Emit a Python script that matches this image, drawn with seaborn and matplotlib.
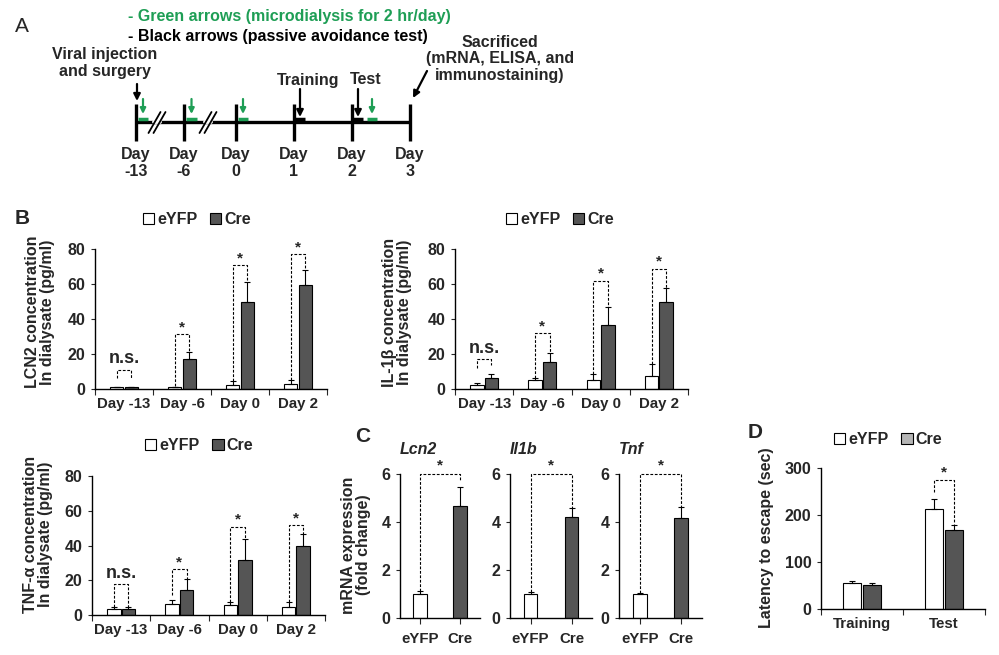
import matplotlib
matplotlib.use('Agg')
import matplotlib.pyplot as plt
from matplotlib.patches import Patch
import numpy as np
import pandas as pd
import seaborn as sns

# ---- data ----
days = ['Day -13', 'Day -6', 'Day 0', 'Day 2']
groups = ['eYFP', 'Cre']

lcn2_eyfp = [1.0, 1.0, 2.5, 2.9]
lcn2_eyfp_err = [0.4, 0.4, 2.3, 2.2]
lcn2_cre = [1.0, 17.1, 50.0, 59.6]
lcn2_cre_err = [0.4, 4.0, 11.0, 8.4]
lcn2_sig = ['n.s.', '*', '*', '*']
lcn2_br_top = [11.0, 31.4, 70.7, 77.0]
lcn2_br_left = [6.3, 1.5, 4.8, 5.1]
lcn2_br_right = [6.3, 21.1, 61.0, 68.0]

il1b_eyfp = [2.5, 5.3, 5.1, 7.6]
il1b_eyfp_err = [1.1, 1.2, 3.6, 6.8]
il1b_cre = [6.3, 15.4, 36.7, 49.6]
il1b_cre_err = [2.2, 5.1, 10.1, 8.0]
il1b_sig = ['n.s.', '*', '*', '*']
il1b_br_top = [17.0, 32.0, 62.0, 68.6]
il1b_br_left = [12.0, 6.5, 8.7, 14.4]
il1b_br_right = [13.5, 20.5, 46.8, 57.6]

tnf_eyfp = [3.3, 6.3, 5.8, 4.4]
tnf_eyfp_err = [1.1, 2.1, 1.7, 3.1]
tnf_cre = [3.3, 14.4, 31.7, 39.7]
tnf_cre_err = [1.5, 6.1, 12.1, 6.7]
tnf_sig = ['n.s.', '*', '*', '*']
tnf_br_top = [17.7, 26.3, 50.9, 51.8]
tnf_br_left = [4.4, 11.5, 7.7, 7.7]
tnf_br_right = [4.8, 20.5, 43.8, 46.4]

mrna_genes = ['Lcn2', 'Il1b', 'Tnf']
mrna_eyfp = [1.0, 1.0, 1.0]
mrna_eyfp_err = [0.11, 0.1, 0.06]
mrna_cre = [4.68, 4.22, 4.18]
mrna_cre_err = [0.78, 0.36, 0.44]
mrna_br_left = [1.11, 1.1, 1.06]
mrna_br_right = [5.7, 4.58, 4.62]
mrna_br_top = 6.0

pa_phase = ['Training', 'Test']
pa_eyfp = [55, 213]
pa_eyfp_err = [4, 21]
pa_cre = [51, 169]
pa_cre_err = [3.6, 10]

timeline_days = ['-13', '-6', '0', '1', '2', '3']

WHITE = 'white'
DARK = '#555555'
GREEN = '#1e9e55'
palette = {'eYFP': WHITE, 'Cre': DARK}
FS = 11.5

sns.set_theme(style='ticks')
plt.rcParams['font.family'] = ['Liberation Sans', 'DejaVu Sans']
plt.rcParams['font.weight'] = 'bold'
plt.rcParams['axes.labelweight'] = 'bold'
plt.rcParams['axes.linewidth'] = 1.0
plt.rcParams['axes.edgecolor'] = 'black'

W, H = 999, 655
fig = plt.figure(figsize=(9.99, 6.55), dpi=100)


def px_axes(x0, x1, y_top, y_bot):
    return fig.add_axes([x0 / W, 1 - y_bot / H, (x1 - x0) / W, (y_bot - y_top) / H])


def draw_pair(ax, cats, eyfp, eyfp_err, cre, cre_err, width, gap):
    df = pd.DataFrame({'cat': cats * 2,
                       'group': ['eYFP'] * len(cats) + ['Cre'] * len(cats),
                       'value': eyfp + cre})
    sns.barplot(data=df, x='cat', y='value', hue='group', hue_order=groups,
                palette=palette, width=width, gap=gap, edgecolor='black',
                linewidth=0.8, errorbar=None, legend=False, ax=ax)
    centers = []
    for cont, errs in zip(ax.containers, [eyfp_err, cre_err]):
        xs = [b.get_x() + b.get_width() / 2 for b in cont]
        hs = [b.get_height() for b in cont]
        ax.errorbar(xs, hs, yerr=[np.zeros(len(errs)), errs], fmt='none',
                    ecolor='black', elinewidth=0.8, capsize=2.5, capthick=0.8)
        centers.append(xs)
    return centers


def bracket(ax, x1, x2, top, yl, yr, label, off, fs):
    ax.plot([x1, x1, x2, x2], [yl, top, top, yr], color='black', lw=0.8,
            ls=(0, (2.5, 1.5)))
    ax.text((x1 + x2) / 2, top + off, label, ha='center', va='bottom',
            fontsize=fs, fontweight='bold')


def style_axis(ax, ymax, ystep, ncat, boundary_ticks=True):
    sns.despine(ax=ax)
    ax.set_ylim(0, ymax)
    ax.set_yticks(np.arange(0, ymax + 1e-9, ystep))
    ax.set_xlim(-0.5, ncat - 0.5)
    ax.set_xlabel('')
    ax.set_ylabel('')
    ax.tick_params(axis='y', length=3, width=0.8, labelsize=FS, pad=4)
    ax.tick_params(axis='x', labelsize=10.8, pad=6)
    if boundary_ticks:
        ax.tick_params(axis='x', which='major', length=0)
        ax.set_xticks(np.arange(-0.5, ncat), minor=True)
        ax.tick_params(axis='x', which='minor', length=4, width=0.8,
                       direction='out', bottom=True)
    else:
        ax.tick_params(axis='x', which='major', length=4, width=0.8)
    for lab in ax.get_xticklabels() + ax.get_yticklabels():
        lab.set_fontweight('bold')


def legend(ax, bx, by, cre_color=DARK):
    handles = [Patch(facecolor=WHITE, edgecolor='black', lw=0.8),
               Patch(facecolor=cre_color, edgecolor='black', lw=0.8)]
    ax.legend(handles, groups, ncol=2, frameon=False, loc='center',
              bbox_to_anchor=(bx, by), handlelength=0.7, handleheight=0.7,
              handletextpad=0.2, columnspacing=0.8, borderaxespad=0,
              prop={'size': FS, 'weight': 'bold'})


# ---- panel A : timeline ----
ax0 = fig.add_axes([0, 0, 1, 1])
ax0.set_xlim(0, W)
ax0.set_ylim(H, 0)
ax0.axis('off')
ax0.patch.set_alpha(0)

day_x = [136, 184, 236, 294, 352, 410]
line_y = 122
ax0.text(15, 27, 'A', fontsize=15, fontweight='normal', va='center')
ax0.text(128, 16, '- Green arrows (microdialysis for 2 hr/day)', color=GREEN,
         fontsize=FS, va='center')
ax0.text(128, 36, '- Black arrows (passive avoidance test)', color='black',
         fontsize=FS, va='center')
ax0.text(105, 63, 'Viral injection\nand surgery', ha='center', va='center',
         fontsize=FS, linespacing=1.1)
ax0.text(308, 80, 'Training', ha='center', va='center', fontsize=FS)
ax0.text(366, 80, 'Test', ha='center', va='center', fontsize=FS)
ax0.text(500, 59, 'Sacrificed\n(mRNA, ELISA, and\nimmunostaining)', ha='center',
         va='center', fontsize=FS, linespacing=1.1)
ax0.plot([day_x[0], day_x[-1]], [line_y, line_y], color='black', lw=2.4,
         solid_capstyle='butt')
for x, d in zip(day_x, timeline_days):
    ax0.plot([x, x], [104, 141], color='black', lw=2.4, solid_capstyle='butt')
    ax0.text(x, 163, 'Day\n' + d, ha='center', va='center', fontsize=FS,
             linespacing=1.1)
# break marks on the time axis
for xm in [157, 208]:
    ax0.plot([xm - 3, xm + 3], [line_y, line_y], color='white', lw=2.8)
    for dx in [-2.5, 2.5]:
        ax0.plot([xm + dx - 6, xm + dx + 6], [133, 112], color='black', lw=1.3)
# microdialysis (green) and behaviour (black) marks
for x0_, x1_ in [(138, 148), (186, 197), (238, 248), (367, 377)]:
    ax0.plot([x0_, x1_], [119, 119], color=GREEN, lw=2.5, solid_capstyle='butt')
    ax0.annotate('', xy=((x0_ + x1_) / 2, 114), xytext=((x0_ + x1_) / 2, 99),
                 arrowprops=dict(arrowstyle='-|>', color=GREEN, lw=1.6,
                                 mutation_scale=8, shrinkA=0, shrinkB=0))
for x0_, x1_ in [(295, 305), (353, 363)]:
    ax0.plot([x0_, x1_], [119, 119], color='black', lw=2.5, solid_capstyle='butt')
for xa, ya0, ya1 in [(137, 84, 101), (300, 89, 117), (358, 89, 117)]:
    ax0.annotate('', xy=(xa, ya1), xytext=(xa, ya0),
                 arrowprops=dict(arrowstyle='-|>', color='black', lw=1.6,
                                 mutation_scale=10, shrinkA=0, shrinkB=0))
ax0.annotate('', xy=(413, 98), xytext=(427, 71),
             arrowprops=dict(arrowstyle='-|>', color='black', lw=1.6,
                             mutation_scale=10, shrinkA=0, shrinkB=0))

# ---- panel B ----
b_specs = [
    ((95, 327, 249, 389), lcn2_eyfp, lcn2_eyfp_err, lcn2_cre, lcn2_cre_err,
     lcn2_sig, lcn2_br_top, lcn2_br_left, lcn2_br_right,
     'LCN2 concentration\nIn dialysate (pg/ml)', (40, 312), (0.44, 1.21)),
    ((455, 688, 249, 389), il1b_eyfp, il1b_eyfp_err, il1b_cre, il1b_cre_err,
     il1b_sig, il1b_br_top, il1b_br_left, il1b_br_right,
     'IL-1β concentration\nIn dialysate (pg/ml)', (397, 312), (0.45, 1.21)),
    ((92, 325, 476, 615), tnf_eyfp, tnf_eyfp_err, tnf_cre, tnf_cre_err,
     tnf_sig, tnf_br_top, tnf_br_left, tnf_br_right,
     'TNF-α concentration\nIn dialysate (pg/ml)', (38, 534), (0.46, 1.22)),
]
for (box, ey, eye, cr, cre_e, sig, top, bl, brr, ylab, lpos, legpos) in b_specs:
    ax = px_axes(*box)
    c = draw_pair(ax, days, ey, eye, cr, cre_e, width=0.5, gap=0.08)
    style_axis(ax, 80, 20, len(days))
    for i in range(len(days)):
        if sig[i] == 'n.s.':
            bracket(ax, c[0][i], c[1][i], top[i], bl[i], brr[i], sig[i], 1.5, 13)
        else:
            bracket(ax, c[0][i], c[1][i], top[i], bl[i], brr[i], sig[i], 0.0, 11)
    legend(ax, *legpos)
    fig.text(lpos[0] / W, 1 - lpos[1] / H, ylab, rotation=90, ha='center',
             va='center', fontsize=FS, multialignment='center', linespacing=1.05)
fig.text(15 / W, 1 - 218 / H, 'B', fontsize=15, va='center')

# ---- panel C ----
c_boxes = [(400, 480), (510, 592), (619, 702)]
for j, gene in enumerate(mrna_genes):
    ax = px_axes(c_boxes[j][0], c_boxes[j][1], 474, 618)
    df = pd.DataFrame({'group': groups, 'value': [mrna_eyfp[j], mrna_cre[j]]})
    sns.barplot(data=df, x='group', y='value', hue='group', hue_order=groups,
                palette=palette, width=0.33, edgecolor='black', linewidth=0.8,
                errorbar=None, legend=False, ax=ax)
    xs = []
    for cont, e in zip(ax.containers, [mrna_eyfp_err[j], mrna_cre_err[j]]):
        b = cont[0]
        x = b.get_x() + b.get_width() / 2
        ax.errorbar([x], [b.get_height()], yerr=[[0], [e]], fmt='none',
                    ecolor='black', elinewidth=0.8, capsize=2.5, capthick=0.8)
        xs.append(x)
    style_axis(ax, 6, 2, 2, boundary_ticks=False)
    bracket(ax, xs[0], xs[1], mrna_br_top, mrna_br_left[j], mrna_br_right[j],
            '*', 0.05, 11)
    for ln in ax.lines:
        ln.set_clip_on(False)
    ax.text(0, 1.12, gene, transform=ax.transAxes, ha='left', va='bottom',
            fontsize=FS, fontstyle='italic', fontweight='bold')
fig.text(355 / W, 1 - 436 / H, 'C', fontsize=15, va='center')
fig.text(356 / W, 1 - 545 / H, 'mRNA expression\n(fold change)', rotation=90,
         ha='center', va='center', fontsize=FS, multialignment='center',
         linespacing=1.05)

# ---- panel D ----
ax = px_axes(821, 985, 468, 609)
c = draw_pair(ax, pa_phase, pa_eyfp, pa_eyfp_err, pa_cre, pa_cre_err,
              width=0.5, gap=0.12)
style_axis(ax, 300, 100, len(pa_phase))
bracket(ax, c[0][1], c[1][1], 275, 250, 181, '*', 0.0, 11)
legend(ax, 0.41, 1.2, cre_color='#b5b5b5')
fig.text(748 / W, 1 - 433 / H, 'D', fontsize=15, va='center')
fig.text(766 / W, 1 - 538 / H, 'Latency to escape (sec)', rotation=90,
         ha='center', va='center', fontsize=FS)

fig.savefig('out.png', dpi=100)
